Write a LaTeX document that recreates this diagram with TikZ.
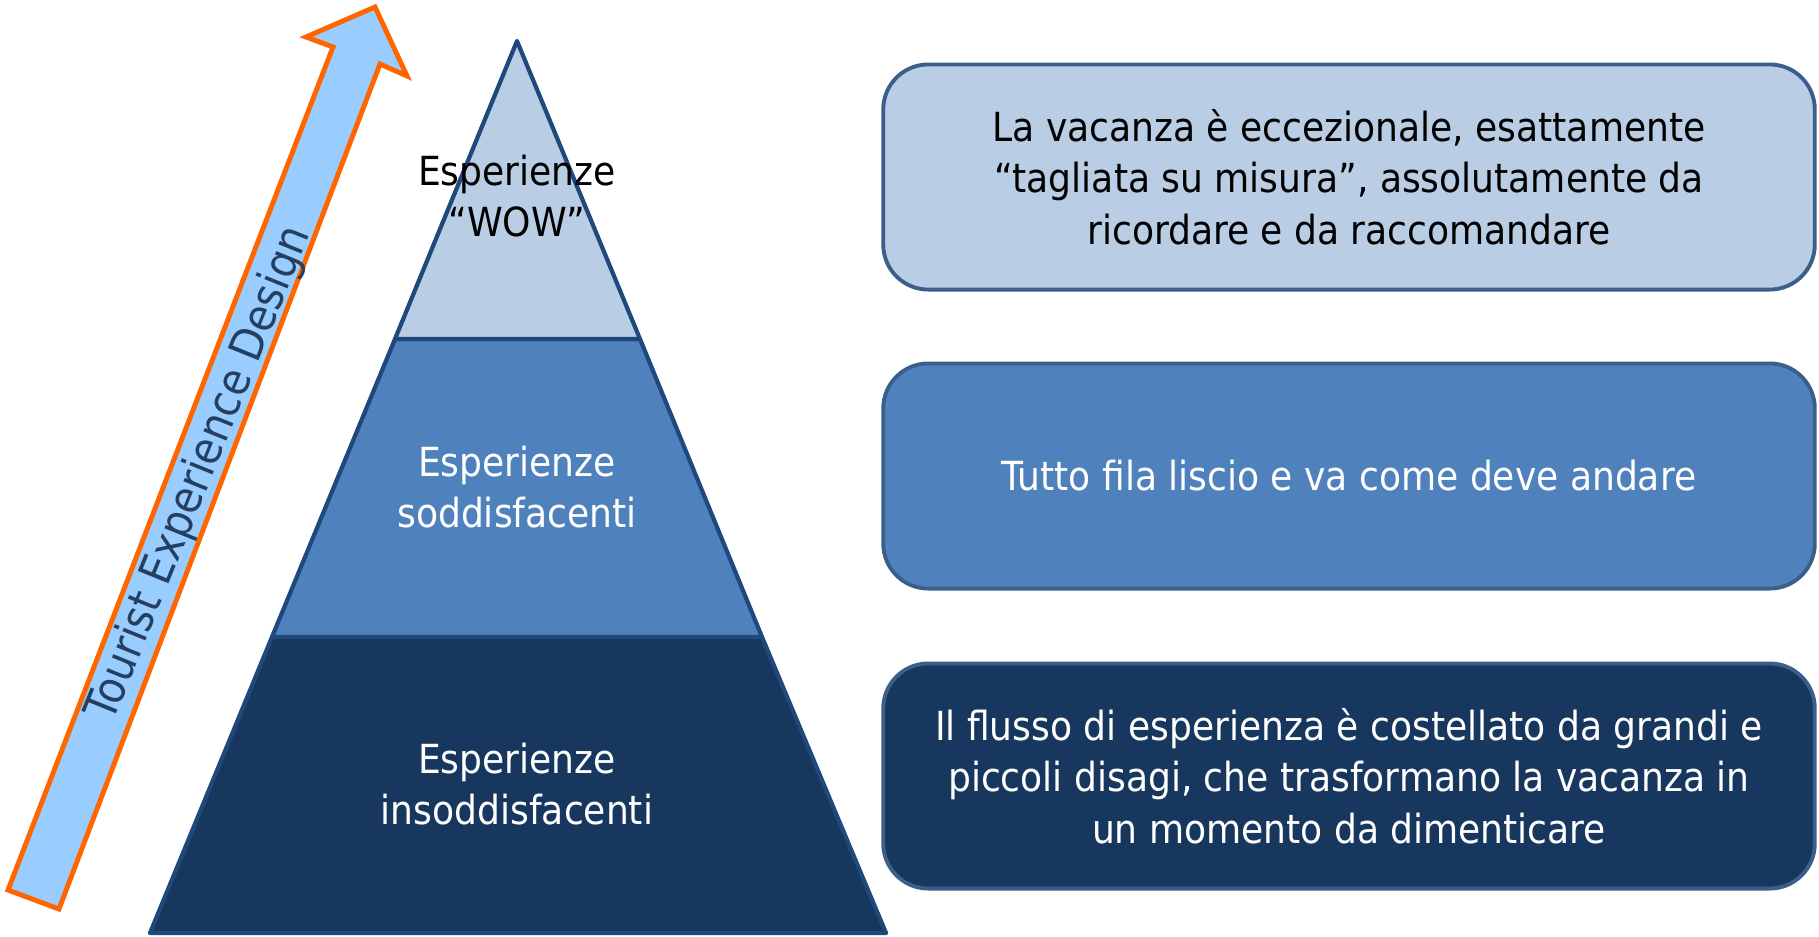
\documentclass[tikz,border=0pt]{standalone}
\usepackage{fontspec}
\setmainfont{DejaVu Sans Condensed}
\usetikzlibrary{positioning}

\definecolor{palebleu}{HTML}{B9CDE5}
\definecolor{moyenbleu}{HTML}{4F81BD}
\definecolor{foncebleu}{HTML}{17375E}
\definecolor{bordbleu}{HTML}{1F497D}
\definecolor{cadrebleu}{HTML}{3A5F8B}
\definecolor{flechebleu}{HTML}{99CCFF}
\definecolor{flecheorange}{HTML}{FF6600}
\definecolor{titrebleu}{HTML}{243F60}

\tikzset{
  etage/.style={draw=bordbleu, line width=1.2pt, line join=round},
  texte/.style={align=center, font=\fontsize{11.4}{14.6}\selectfont},
  boite/.style={texte, draw=cadrebleu, line width=1.1pt, rounded corners=4.5mm,
                minimum width=9.31cm, minimum height=2.25cm}
}

\begin{document}
\begin{tikzpicture}[x=0.01cm, y=-0.01cm]
  \useasboundingbox (0,0) rectangle (1819,936);

  % -- fleche
  \draw [fill=flechebleu, draw=flecheorange, line width=1.4pt, line join=miter]
    (8,890) -- (333,47) -- (306,37) -- (375,7) -- (407,76) -- (380,64)
    -- (59,909) -- cycle;
  \node [text=titrebleu, rotate=68, font=\fontsize{12.9}{15}\selectfont] (ted) at (200,474)
    {Tourist Experience Design};

  % -- pyramide
  \draw [etage, fill=foncebleu] (150,933) -- (272,637) -- (762,637) -- (886,933) -- cycle;
  \draw [etage, fill=moyenbleu] (272,637) -- (395,339) -- (640,339) -- (762,637) -- cycle;
  \draw [etage, fill=palebleu]  (395,339) -- (517,41) -- (640,339) -- cycle;

  \node [texte] (wow) at (517,196) {Esperienze\\“WOW”};
  \node [texte, text=white] (soddisf) at (517,487) {Esperienze\\soddisfacenti};
  \node [texte, text=white] (insoddisf) at (517,784) {Esperienze\\insoddisfacenti};

  % -- boites
  \node [boite, fill=palebleu] (haut) at (1349,177)
    {La vacanza è eccezionale, esattamente\\“tagliata su misura”, assolutamente da\\ricordare e da raccomandare};
  \node [boite, fill=moyenbleu, text=white] (milieu) at (1349,476)
    {Tutto fila liscio e va come deve andare};
  \node [boite, fill=foncebleu, text=white] (bas) at (1349,776)
    {Il flusso di esperienza è costellato da grandi e\\piccoli disagi, che trasformano la vacanza in\\un momento da dimenticare};
\end{tikzpicture}
\end{document}
